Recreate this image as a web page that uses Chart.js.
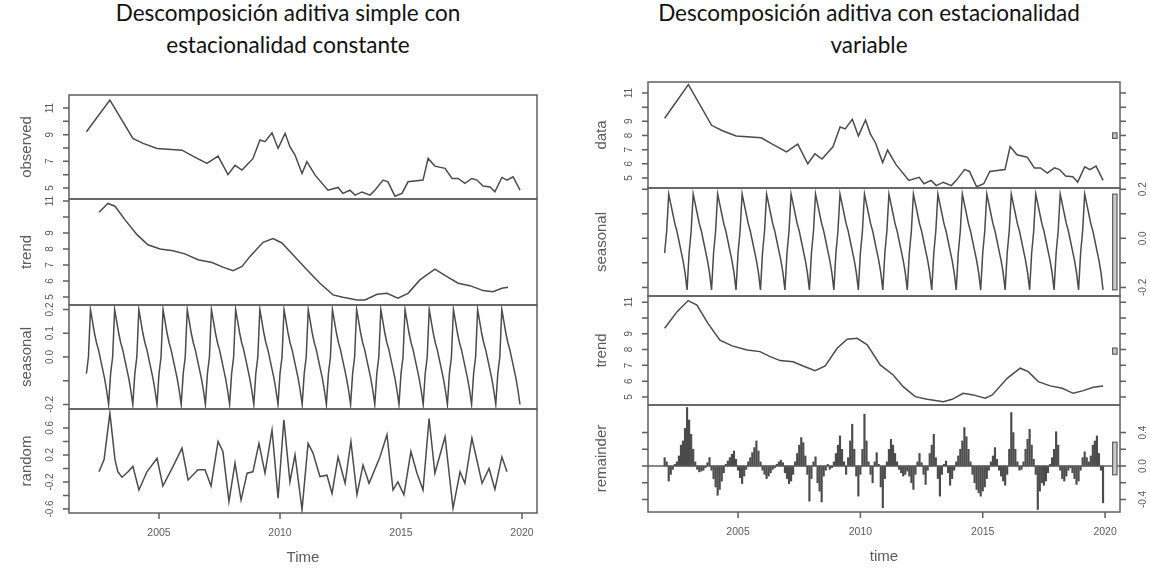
<!DOCTYPE html>
<html>
<head>
<meta charset="utf-8">
<script src="https://cdn.jsdelivr.net/npm/chart.js@4.4.1/dist/chart.umd.min.js"></script>
<style>
  body { margin: 0; background: #fff; }
  #page { position: relative; width: 1150px; height: 569px; overflow: hidden; background: #fff; }
  #page canvas { position: absolute; left: 0; top: 0; }
  .title { position: absolute; width: 560px; text-align: center; font-family: Lato, "Open Sans", sans-serif; font-size: 22.5px; line-height: 32px; color: #111; }
</style>
</head>
<body>
<div id="page">
  <div class="title" style="left:8px;top:-3px">Descomposición aditiva simple con<br>estacionalidad constante</div>
  <div class="title" style="left:589px;top:-3px">Descomposición aditiva con estacionalidad<br>variable</div>
  <canvas id="obsL" width="1150" height="569"></canvas>
  <canvas id="trendL" width="1150" height="569"></canvas>
  <canvas id="seasL" width="1150" height="569"></canvas>
  <canvas id="randL" width="1150" height="569"></canvas>
  <canvas id="dataR" width="1150" height="569"></canvas>
  <canvas id="seasR" width="1150" height="569"></canvas>
  <canvas id="trendR" width="1150" height="569"></canvas>
  <canvas id="remR" width="1150" height="569"></canvas>
</div>
<script>
// observed series (same series in both plots)
const obsT = [2002.00, 2002.97, 2003.92, 2004.34, 2004.92, 2005.95, 2006.40, 2006.98, 2007.44, 2007.85,
  2008.14, 2008.43, 2008.88, 2009.17, 2009.38, 2009.67, 2009.92, 2010.21, 2010.41, 2010.62, 2010.91,
  2011.11, 2011.45, 2011.98, 2012.40, 2012.60, 2012.89, 2013.10, 2013.39, 2013.72, 2013.92, 2014.26,
  2014.46, 2014.75, 2015.04, 2015.29, 2015.91, 2016.12, 2016.40, 2016.82, 2017.11, 2017.36, 2017.64,
  2017.93, 2018.14, 2018.39, 2018.68, 2018.88, 2019.17, 2019.38, 2019.63, 2019.92];
const obsV = [9.22, 11.60, 8.72, 8.35, 7.97, 7.84, 7.39, 6.84, 7.39, 6.00,
  6.70, 6.34, 7.20, 8.60, 8.47, 9.14, 7.97, 9.10, 8.10, 7.47, 6.09,
  6.97, 5.96, 4.83, 5.04, 4.59, 4.83, 4.46, 4.70, 4.46, 4.83, 5.59,
  5.46, 4.38, 4.59, 5.46, 5.59, 7.22, 6.64, 6.47, 5.71, 5.71, 5.34,
  5.71, 5.59, 5.14, 5.08, 4.71, 5.79, 5.59, 5.84, 4.83];

// decompose(): trend and random
const trendLT = [2002.52, 2002.89, 2003.18, 2003.59, 2004.09, 2004.54, 2005.04, 2005.58, 2006.07, 2006.61,
  2007.19, 2007.64, 2008.06, 2008.43, 2008.76, 2009.30, 2009.71, 2010.08, 2010.41, 2011.11,
  2011.65, 2012.19, 2012.60, 2013.18, 2013.51, 2014.01, 2014.42, 2014.87, 2015.29, 2015.78,
  2016.40, 2016.90, 2017.36, 2017.85, 2018.39, 2018.80, 2019.17, 2019.42];
const trendLV = [10.30, 10.85, 10.68, 9.84, 8.90, 8.27, 8.00, 7.89, 7.70, 7.33,
  7.16, 6.87, 6.64, 6.91, 7.54, 8.42, 8.65, 8.38, 7.85, 6.70,
  5.86, 5.13, 4.98, 4.81, 4.81, 5.17, 5.23, 4.92, 5.23, 6.07,
  6.74, 6.28, 5.86, 5.71, 5.40, 5.33, 5.55, 5.61];
const randT = [2002.52, 2002.73, 2002.97, 2003.18, 2003.30, 2003.47, 2003.72, 2003.92, 2004.17, 2004.50,
  2004.92, 2005.16, 2005.58, 2005.95, 2006.20, 2006.61, 2006.90, 2007.15, 2007.44, 2007.64,
  2007.89, 2008.14, 2008.39, 2008.64, 2008.88, 2009.13, 2009.38, 2009.67, 2009.92, 2010.16,
  2010.41, 2010.62, 2010.91, 2011.16, 2011.36, 2011.65, 2011.94, 2012.15, 2012.40, 2012.69,
  2012.93, 2013.18, 2013.43, 2013.68, 2014.13, 2014.42, 2014.67, 2014.87, 2015.12, 2015.41,
  2015.66, 2015.91, 2016.16, 2016.40, 2016.82, 2017.15, 2017.44, 2017.64, 2017.93, 2018.35,
  2018.64, 2018.88, 2019.17, 2019.38];
const randV = [-0.05, 0.13, 0.82, 0.13, -0.05, -0.13, -0.05, 0.03, -0.32, -0.05,
  0.15, -0.26, 0.03, 0.30, -0.17, -0.02, -0.02, -0.26, 0.40, 0.25,
  -0.49, 0.08, -0.47, -0.07, -0.05, 0.37, -0.07, 0.57, -0.44, 0.72,
  -0.20, 0.20, -0.61, 0.37, 0.23, -0.12, -0.10, -0.37, 0.17, -0.22,
  0.40, -0.39, 0.05, -0.22, 0.17, 0.50, -0.32, -0.20, -0.39, 0.25,
  -0.07, -0.32, 0.74, -0.07, 0.47, -0.59, -0.05, -0.22, 0.45, -0.22,
  0.00, -0.31, 0.17, -0.05];

// monthly seasonal figures, Jan..Dec
const years = [2002, 2003, 2004, 2005, 2006, 2007, 2008, 2009, 2010, 2011, 2012, 2013, 2014, 2015, 2016, 2017, 2018, 2019];
const seasPatternL = [-0.07, 0.00, 0.20, 0.15, 0.10, 0.06, 0.03, -0.01, -0.05, -0.09, -0.14, -0.20];
const seasPatternR = [-0.06, 0.03, 0.18, 0.14, 0.10, 0.06, 0.03, -0.01, -0.05, -0.09, -0.14, -0.21];

// stl(): trend and monthly remainder
const trendRT = [2002.00, 2002.51, 2002.96, 2003.32, 2003.77, 2004.26, 2004.76, 2005.37, 2005.90, 2006.31,
  2006.72, 2007.25, 2007.66, 2008.15, 2008.56, 2009.05, 2009.46, 2009.87, 2010.28, 2010.81,
  2011.34, 2011.75, 2012.24, 2012.73, 2013.39, 2013.75, 2014.20, 2014.61, 2015.10, 2015.39,
  2016.00, 2016.53, 2016.86, 2017.27, 2017.76, 2018.25, 2018.70, 2019.11, 2019.52, 2019.92];
const trendRV = [9.35, 10.40, 11.10, 10.82, 9.66, 8.60, 8.23, 7.97, 7.87, 7.55,
  7.30, 7.23, 6.96, 6.66, 6.96, 8.08, 8.65, 8.71, 8.30, 7.03,
  6.39, 5.65, 5.02, 4.85, 4.70, 4.85, 5.23, 5.13, 4.92, 5.13,
  6.18, 6.82, 6.60, 5.97, 5.70, 5.55, 5.23, 5.40, 5.61, 5.70];
const remainder = [
  0.10, 0.05, -0.18, -0.10, -0.04, 0.02, 0.05, 0.12, 0.25, 0.30, 0.45, 0.70,
  0.55, 0.38, 0.20, 0.05, -0.04, -0.07, -0.06, -0.05, -0.02, 0.04, 0.10, -0.05,
  -0.15, -0.25, -0.35, -0.28, -0.18, -0.08, 0.02, 0.06, 0.10, 0.14, 0.18, 0.08,
  -0.05, -0.14, -0.21, -0.12, -0.04, 0.05, 0.10, 0.16, 0.22, 0.30, 0.18, 0.05,
  -0.05, -0.10, -0.15, -0.12, -0.08, -0.04, -0.02, 0.02, 0.05, 0.07, 0.04, -0.08,
  -0.15, -0.21, -0.18, -0.10, 0.05, 0.15, 0.25, 0.34, 0.28, 0.12, -0.10, -0.42,
  -0.15, 0.05, 0.11, -0.20, -0.30, -0.43, -0.12, -0.05, 0.02, -0.04, -0.02, 0.05,
  0.15, 0.25, 0.36, 0.20, 0.05, -0.10, 0.10, 0.30, 0.50, 0.20, -0.12, -0.36,
  -0.10, 0.20, 0.62, 0.30, 0.05, -0.10, -0.20, 0.05, 0.16, 0.02, -0.25, -0.50,
  -0.15, 0.05, 0.20, 0.32, 0.25, 0.15, 0.05, -0.04, -0.08, -0.12, -0.10, -0.06,
  -0.12, -0.20, -0.28, -0.10, 0.05, 0.15, 0.04, -0.10, -0.22, -0.05, 0.15, 0.25,
  0.38, 0.10, -0.15, -0.36, -0.10, 0.02, 0.06, -0.08, -0.23, -0.15, -0.05, 0.05,
  0.12, 0.20, 0.30, 0.46, 0.35, 0.20, 0.05, -0.10, -0.20, -0.28, -0.32, -0.36,
  -0.30, -0.25, -0.15, -0.05, 0.05, 0.12, 0.22, 0.08, -0.05, -0.12, -0.18, -0.23,
  -0.10, 0.20, 0.64, 0.40, 0.20, 0.05, -0.05, -0.04, 0.05, 0.20, 0.32, 0.44,
  0.25, 0.08, -0.10, -0.52, -0.30, -0.20, -0.23, -0.18, -0.08, 0.02, 0.10, 0.20,
  0.41, 0.25, -0.05, -0.15, -0.18, -0.12, -0.05, -0.02, -0.08, -0.15, -0.22, -0.18,
  -0.05, 0.10, 0.17, 0.10, 0.05, 0.12, 0.25, 0.30, 0.36, 0.15, -0.05, -0.44];

// axis ticks and labels
const yearTicks = [2005, 2010, 2015, 2020];
const levelTicks = [5, 6, 7, 8, 9, 10, 11];
const obsLabL = ['5', '7', '9', '11'];
const trendLabL = ['5', '6', '7', '8', '9', '11'];
const seasTicks = [-0.2, -0.1, 0, 0.1, 0.2];
const seasLabL = ['-0.2', '0.0', '0.1', '0.2'];
const randTicks = [-0.6, -0.4, -0.2, 0, 0.2, 0.4, 0.6];
const randLabL = ['-0.6', '-0.2', '0.2', '0.6'];
const dataLabR = ['5', '6', '7', '8', '9', '11'];
const seasLabR = ['-0.2', '0.0', '0.2'];
const trendLabR = ['5', '6', '7', '8', '9', '11'];
const remTicks = [-0.4, -0.2, 0, 0.2, 0.4];
const remLabR = ['-0.4', '0.0', '0.4'];

const W = 1150, H = 569;
const LINE = '#4b4b4b', FRAME = '#5f5f5f', TEXT = '#5a5a5a';
const FONT = '"Liberation Sans", Arial, sans-serif';

const pts = (ts, vs) => ts.map((t, i) => ({ x: t, y: vs[i] }));
const monthly = (vs) => vs.map((v, i) => ({ x: 2002 + i / 12, y: v }));
const seasonalL = years.flatMap(() => seasPatternL);
const seasonalR = years.flatMap(() => seasPatternR);

// R-style box, ticks and rotated labels around each panel
const rframe = {
  id: 'rframe',
  afterDatasetsDraw(chart, args, o) {
    const { ctx, chartArea: a, scales: { x, y } } = chart;
    ctx.save();
    ctx.lineWidth = 1.5;
    ctx.strokeStyle = FRAME;
    if (o.zero) {
      const py = y.getPixelForValue(0);
      ctx.beginPath(); ctx.moveTo(a.left, py); ctx.lineTo(a.right, py); ctx.stroke();
    }
    if (o.bar) {
      const dx = (a.right - a.left) / 64;
      const top = y.getPixelForValue(o.bar[1]), bot = y.getPixelForValue(o.bar[0]);
      ctx.fillStyle = '#c9c9c9';
      ctx.fillRect(a.right - dx, top, 0.6 * dx, bot - top);
      ctx.lineWidth = 1.2;
      ctx.strokeRect(a.right - dx, top, 0.6 * dx, bot - top);
      ctx.lineWidth = 1.5;
    }
    ctx.strokeRect(a.left, a.top, a.right - a.left, a.bottom - a.top);
    ctx.beginPath();
    for (const v of o.ticks) {
      const py = y.getPixelForValue(v);
      for (const side of o.tickSides) {
        const px = side === 'left' ? a.left : a.right;
        ctx.moveTo(px, py);
        ctx.lineTo(px + (side === 'left' ? -6 : 6), py);
      }
    }
    ctx.stroke();
    ctx.fillStyle = TEXT;
    ctx.textAlign = 'center';
    ctx.textBaseline = 'middle';
    ctx.font = '10px ' + FONT;
    for (const s of o.labels) {
      const py = y.getPixelForValue(parseFloat(s));
      const px = o.labelSide === 'left' ? a.left - 19 : a.right + 23;
      ctx.save(); ctx.translate(px, py); ctx.rotate(-Math.PI / 2); ctx.fillText(s, 0, 0); ctx.restore();
    }
    ctx.font = '15px ' + FONT;
    ctx.save();
    ctx.translate(a.left - o.titleOff, (a.top + a.bottom) / 2);
    ctx.rotate(-Math.PI / 2);
    ctx.fillText(o.title, 0, 0);
    ctx.restore();
    if (o.xTitle) {
      ctx.beginPath();
      for (const t of yearTicks) {
        const px = x.getPixelForValue(t);
        ctx.moveTo(px, a.bottom); ctx.lineTo(px, a.bottom + 6);
      }
      ctx.stroke();
      ctx.font = '10.5px ' + FONT;
      for (const t of yearTicks) ctx.fillText(String(t), x.getPixelForValue(t), a.bottom + 20);
      ctx.font = '15px ' + FONT;
      ctx.fillText(o.xTitle, (a.left + a.right) / 2, a.bottom + 45);
    }
    ctx.restore();
  }
};

function panel(id, box, xr, yr, datasets, frame) {
  return new Chart(document.getElementById(id), {
    type: 'line',
    data: { datasets },
    options: {
      responsive: false,
      animation: false,
      devicePixelRatio: 1,
      events: [],
      layout: { padding: { left: box[0], top: box[1], right: W - box[2], bottom: H - box[3] } },
      scales: {
        x: { type: 'linear', min: xr[0], max: xr[1], display: false, offset: false },
        y: { type: 'linear', min: yr[0], max: yr[1], display: false }
      },
      elements: { point: { radius: 0 }, line: { borderWidth: 1.5, borderColor: LINE, tension: 0 } },
      plugins: { legend: { display: false }, tooltip: { enabled: false }, title: { display: false }, rframe: frame }
    },
    plugins: [rframe]
  });
}

const lineSet = (data) => ({ data, borderColor: LINE, borderWidth: 1.5, pointRadius: 0, fill: false });
const xL = [2001.28, 2020.62], xR = [2001.32, 2020.61];

panel('obsL', [69, 95, 537, 199], xL, [4.17, 11.98], [lineSet(pts(obsT, obsV))],
  { ticks: levelTicks, tickSides: ['left'], labels: obsLabL, labelSide: 'left', title: 'observed', titleOff: 42 });
panel('trendL', [69, 199, 537, 305], xL, [4.5, 11.13], [lineSet(pts(trendLT, trendLV))],
  { ticks: levelTicks, tickSides: ['left'], labels: trendLabL, labelSide: 'left', title: 'trend', titleOff: 42 });
panel('seasL', [69, 305, 537, 409], xL, [-0.219, 0.219], [lineSet(monthly(seasonalL))],
  { ticks: seasTicks, tickSides: ['left'], labels: seasLabL, labelSide: 'left', title: 'seasonal', titleOff: 42 });
panel('randL', [69, 409, 537, 513], xL, [-0.66, 0.88], [lineSet(pts(randT, randV))],
  { ticks: randTicks, tickSides: ['left'], labels: randLabL, labelSide: 'left', title: 'random', titleOff: 42, xTitle: 'Time' });

// range bars: height of the smallest component range, centred on each component
const rangeOf = (vs) => [Math.min(...vs), Math.max(...vs)];
const seasRange = rangeOf(seasonalR);
const barH = seasRange[1] - seasRange[0];
const barAt = (r) => [(r[0] + r[1]) / 2 - barH / 2, (r[0] + r[1]) / 2 + barH / 2];

panel('dataR', [648, 82, 1120, 188], xR, [4.29, 11.78], [lineSet(pts(obsT, obsV))],
  { ticks: levelTicks, tickSides: ['left', 'right'], labels: dataLabR, labelSide: 'left', title: 'data', titleOff: 46, bar: barAt(rangeOf(obsV)) });
panel('seasR', [648, 188, 1120, 296], xR, [-0.235, 0.205], [lineSet(monthly(seasonalR))],
  { ticks: seasTicks, tickSides: ['left', 'right'], labels: seasLabR, labelSide: 'right', title: 'seasonal', titleOff: 46, bar: barAt(seasRange) });
panel('trendR', [648, 296, 1120, 405], xR, [4.49, 11.39], [lineSet(pts(trendRT, trendRV))],
  { ticks: levelTicks, tickSides: ['left', 'right'], labels: trendLabR, labelSide: 'left', title: 'trend', titleOff: 46, bar: barAt(rangeOf(trendRV)) });
panel('remR', [648, 405, 1120, 512], xR, [-0.55, 0.73],
  [{ type: 'bar', data: monthly(remainder), backgroundColor: LINE, borderWidth: 0, barThickness: 1.5 }],
  { ticks: remTicks, tickSides: ['left', 'right'], labels: remLabR, labelSide: 'right', title: 'remainder', titleOff: 46, xTitle: 'time', zero: true, bar: barAt(rangeOf(remainder)) });
</script>
</body>
</html>
